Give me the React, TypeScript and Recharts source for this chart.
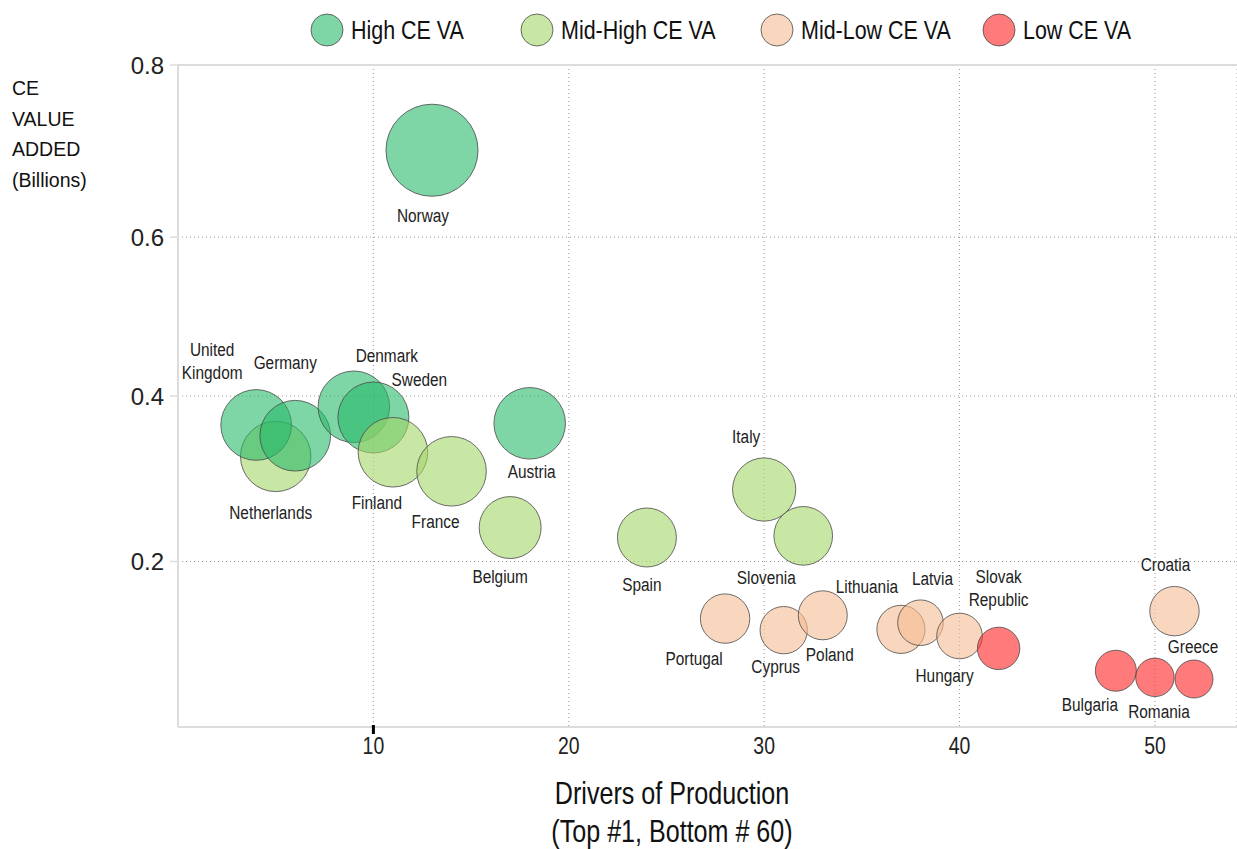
import React from 'react';
import { ScatterChart, Scatter, XAxis, YAxis, ZAxis, CartesianGrid, ReferenceLine, Legend } from 'recharts';

const FONT = "'Liberation Sans', Arial, Helvetica, sans-serif";
const SX = 0.81; // horizontal squeeze to mimic a condensed face

// ---- data (array order = drawing order) ----
const countries = [
  'Netherlands', 'United Kingdom', 'Germany', 'Denmark', 'Sweden', 'Norway', 'Austria',
  'Finland', 'France', 'Belgium', 'Spain', 'Italy', 'Slovenia',
  'Portugal', 'Cyprus', 'Poland', 'Lithuania', 'Latvia', 'Hungary', 'Croatia',
  'Slovak Republic', 'Bulgaria', 'Romania', 'Greece',
];
const driversOfProduction = [
  5, 4, 6, 9, 10, 13, 18,
  11, 14, 17, 24, 30, 32,
  28, 31, 33, 37, 38, 40, 51,
  42, 48, 50, 52,
];
const ceValueAdded = [
  0.327, 0.365, 0.352, 0.387, 0.374, 0.697, 0.367,
  0.332, 0.309, 0.241, 0.229, 0.287, 0.231,
  0.131, 0.117, 0.135, 0.118, 0.126, 0.110, 0.140,
  0.095, 0.068, 0.060, 0.058,
];
const bubbleSize = [
  12.4, 12.5, 12.5, 12.8, 12.6, 21.2, 12.8,
  12.1, 12.1, 9.6, 8.7, 10.0, 8.6,
  6.1, 5.6, 6.0, 5.8, 5.2, 5.2, 6.1,
  4.5, 4.2, 3.7, 3.6,
];
const valueGroup = [
  'Mid-High CE VA', 'High CE VA', 'High CE VA', 'High CE VA', 'High CE VA', 'High CE VA', 'High CE VA',
  'Mid-High CE VA', 'Mid-High CE VA', 'Mid-High CE VA', 'Mid-High CE VA', 'Mid-High CE VA', 'Mid-High CE VA',
  'Mid-Low CE VA', 'Mid-Low CE VA', 'Mid-Low CE VA', 'Mid-Low CE VA', 'Mid-Low CE VA', 'Mid-Low CE VA', 'Mid-Low CE VA',
  'Low CE VA', 'Low CE VA', 'Low CE VA', 'Low CE VA',
];
const groupNames = ['High CE VA', 'Mid-High CE VA', 'Mid-Low CE VA', 'Low CE VA'];
const xTicks = [10, 20, 30, 40, 50];
const yTicks = [0.2, 0.4, 0.592, 0.8];
const yTitleLines = ['CE', 'VALUE', 'ADDED', '(Billions)'];
const xTitleLines = ['Drivers of Production', '(Top #1, Bottom # 60)'];

// ---- styles / layout ----
const GROUP_COLORS: Record<string, string> = {
  'High CE VA': '#28b969',
  'Mid-High CE VA': '#a3d567',
  'Mid-Low CE VA': '#f5bc93',
  'Low CE VA': '#ff2323',
};
const FILL_OPACITY = 0.6;
const LEGEND_X = [327, 537, 777, 999];

// label offsets (px) from bubble centre to first label line centre
const LABEL_OFFSETS: Record<string, [number, number]> = {
  'Norway': [-9, 65],
  'United Kingdom': [-44, -76],
  'Germany': [-10, -73],
  'Netherlands': [-5, 56],
  'Denmark': [33, -51],
  'Sweden': [46, -38],
  'Finland': [-16, 50],
  'France': [-16, 50],
  'Austria': [2, 48],
  'Belgium': [-10, 49],
  'Spain': [-5, 47],
  'Italy': [-18, -53],
  'Slovenia': [-37, 42],
  'Portugal': [-31, 40],
  'Cyprus': [-8, 36],
  'Poland': [7, 39],
  'Lithuania': [-34, -43],
  'Latvia': [12, -44],
  'Hungary': [-15, 39],
  'Slovak Republic': [0, -72],
  'Croatia': [-9, -47],
  'Greece': [-1, -33],
  'Bulgaria': [-26, 34],
  'Romania': [4, 34],
};

const points = countries.map((name, i) => ({
  name,
  x: driversOfProduction[i],
  y: ceValueAdded[i],
  z: bubbleSize[i],
  group: valueGroup[i],
}));

const NText = ({ x, y, size, anchor = 'middle', fill = '#222', children }: any) => (
  <text
    transform={`translate(${x},${y}) scale(${SX},1)`}
    x={0}
    y={0}
    textAnchor={anchor}
    dominantBaseline="central"
    fontFamily={FONT}
    fontSize={size}
    fill={fill}
  >
    {children}
  </text>
);

const Bubble = (p: any) => {
  const r = p.width ? p.width / 2 : Math.sqrt((p.size || 0) / Math.PI);
  const g = p.payload?.group ?? p.group;
  return (
    <circle
      cx={p.cx}
      cy={p.cy}
      r={r}
      fill={GROUP_COLORS[g]}
      fillOpacity={FILL_OPACITY}
      stroke="#4a4a4a"
      strokeOpacity={0.8}
      strokeWidth={1}
    />
  );
};

const LabelShape = (p: any) => {
  const name: string = p.payload?.name ?? p.name;
  const off = LABEL_OFFSETS[name] || [0, 40];
  const lines = name === 'United Kingdom' ? ['United', 'Kingdom'] : name === 'Slovak Republic' ? ['Slovak', 'Republic'] : [name];
  return (
    <g>
      {lines.map((l, i) => (
        <NText key={i} x={p.cx + off[0]} y={p.cy + off[1] + i * 23} size={19} fill="#222">
          {l}
        </NText>
      ))}
    </g>
  );
};

const XTick = (p: any) => {
  const v = p.payload?.value;
  return (
    <g>
      {v === 10 && <rect x={p.x - 1.5} y={p.y - 2} width={3} height={9} fill="#000" />}
      <NText x={p.x} y={p.y + 19} size={24} fill="#222">{v}</NText>
    </g>
  );
};

const LegendContent = () => (
  <svg width={1237} height={65} style={{ display: 'block' }}>
    {groupNames.map((g, i) => (
      <g key={g}>
        <circle cx={LEGEND_X[i]} cy={30} r={16} fill={GROUP_COLORS[g]} fillOpacity={FILL_OPACITY} stroke="#4a4a4a" strokeOpacity={0.8} />
        <NText x={LEGEND_X[i] + 24} y={30} size={26.5} anchor="start" fill="#111">
          {g}
        </NText>
      </g>
    ))}
  </svg>
);

const YTitle = () => (
  <text fontFamily={FONT} fontSize={19.5} fill="#111">
    {yTitleLines.map((t, i) => (
      <tspan key={i} x={12} y={95 + i * 30.5}>{t}</tspan>
    ))}
  </text>
);

const XTitle = () => (
  <g>
    {xTitleLines.map((t, i) => (
      <NText key={i} x={672} y={793 + i * 38} size={31} fill="#111">{t}</NText>
    ))}
  </g>
);

export default function App() {
  return (
    <div style={{ position: 'absolute', left: 0, top: 0, width: 1237, height: 849, background: '#fff', fontFamily: FONT }}>
      <ScatterChart width={1237} height={849} margin={{ top: 0, right: 0, bottom: 0, left: 0 }}>
        <Legend
          verticalAlign="top"
          align="left"
          content={LegendContent}
          wrapperStyle={{ left: 0, top: 0, width: 1237, height: 65 }}
        />
        <CartesianGrid stroke="#999" strokeDasharray="1 3" />
        <XAxis
          type="number"
          dataKey="x"
          domain={[0, 54.2]}
          ticks={xTicks}
          allowDataOverflow
          height={122}
          stroke="#dcdcdc"
          strokeWidth={2}
          tickLine={false}
          tickSize={0}
          tickMargin={0}
          tick={<XTick />}
          label={{ content: XTitle }}
        />
        <YAxis
          type="number"
          dataKey="y"
          domain={[0, 0.8]}
          ticks={yTicks}
          width={178}
          stroke="#dcdcdc"
          strokeWidth={2}
          tickSize={8}
          tickMargin={6}
          tickLine={{ stroke: '#dcdcdc', strokeWidth: 1.5 }}
          tick={{ fontFamily: FONT, fontSize: 24, fill: '#222' }}
          tickFormatter={(v: number) => v.toFixed(1)}
          label={{ content: YTitle }}
        />
        <ZAxis type="number" dataKey="z" domain={[0, 25]} range={[0, 2500 * Math.PI]} />
        <ReferenceLine y={0.8} stroke="#dcdcdc" strokeWidth={2} />
        <Scatter data={points} shape={(p: any) => <Bubble {...p} />} isAnimationActive={false} />
        <Scatter data={points} shape={(p: any) => <LabelShape {...p} />} isAnimationActive={false} />
      </ScatterChart>
    </div>
  );
}
